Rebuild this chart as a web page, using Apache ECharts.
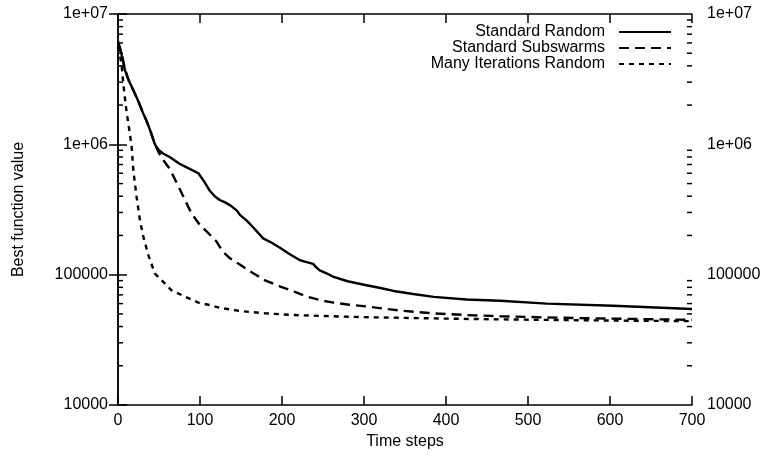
<!DOCTYPE html>
<html>
<head>
<meta charset="utf-8">
<script src="https://cdn.jsdelivr.net/npm/echarts@6/dist/echarts.min.js"></script>
<style>
html,body{margin:0;padding:0;background:#fff;}
#chart{width:766px;height:459px;}
</style>
</head>
<body>
<div id="chart"></div>
<script>
// ---- data ----
const seriesNames = ['Standard Random', 'Standard Subswarms', 'Many Iterations Random'];

const randomSteps = [0, 4, 8.5, 13, 18.7, 24, 29, 35, 39, 45, 50, 55, 63, 75, 85, 98, 105, 112, 118, 124, 130, 137, 145, 149, 157, 165, 177, 188, 198, 210, 222, 230, 238, 241, 246, 255, 263, 280, 303, 320, 336, 360, 385, 425, 466, 523, 604, 700];
const randomValues = [6.0e6, 5.0e6, 3.7e6, 3.1e6, 2.6e6, 2.2e6, 1.83e6, 1.5e6, 1.29e6, 1.0e6, 9.0e5, 8.5e5, 8.0e5, 7.1e5, 6.6e5, 6.0e5, 5.2e5, 4.4e5, 4.0e5, 3.74e5, 3.6e5, 3.4e5, 3.1e5, 2.86e5, 2.6e5, 2.3e5, 1.9e5, 1.75e5, 1.6e5, 1.43e5, 1.29e5, 1.25e5, 1.21e5, 1.15e5, 1.08e5, 1.02e5, 9.6e4, 8.9e4, 8.3e4, 7.9e4, 7.5e4, 7.1e4, 6.76e4, 6.45e4, 6.3e4, 6.0e4, 5.77e4, 5.45e4];

const subswarmSteps = [0, 4, 8.5, 13, 18.7, 24, 29, 35, 39, 45, 50, 55, 63, 70, 75.6, 82, 88, 94, 100, 108, 120, 128, 137, 149, 160, 169, 180, 198, 215, 230, 250, 263, 280, 303, 344, 385, 425, 466, 520, 580, 640, 700];
const subswarmValues = [6.2e6, 5.1e6, 3.8e6, 3.1e6, 2.6e6, 2.2e6, 1.85e6, 1.5e6, 1.3e6, 1.0e6, 8.6e5, 7.6e5, 6.5e5, 5.3e5, 4.5e5, 3.7e5, 3.1e5, 2.7e5, 2.4e5, 2.15e5, 1.8e5, 1.5e5, 1.33e5, 1.19e5, 1.07e5, 9.9e4, 9.0e4, 8.1e4, 7.4e4, 6.8e4, 6.3e4, 6.1e4, 5.9e4, 5.7e4, 5.3e4, 5.05e4, 4.9e4, 4.8e4, 4.7e4, 4.62e4, 4.56e4, 4.5e4];

const manyIterSteps = [0, 2, 4.5, 6.5, 8.5, 10.6, 12.6, 14.5, 16.7, 18.7, 22.8, 26.8, 30.9, 37, 45, 53, 65, 82, 98, 112, 124, 150, 180, 214, 260, 300, 344, 400, 466, 550, 630, 700];
const manyIterValues = [5.6e6, 5.0e6, 4.0e6, 2.9e6, 2.25e6, 1.75e6, 1.45e6, 1.2e6, 9.5e5, 6.3e5, 3.9e5, 2.6e5, 1.96e5, 1.41e5, 1.02e5, 9.1e4, 7.6e4, 6.77e4, 6.1e4, 5.85e4, 5.57e4, 5.25e4, 5.05e4, 4.9e4, 4.8e4, 4.72e4, 4.67e4, 4.6e4, 4.54e4, 4.48e4, 4.43e4, 4.4e4];

const xTickValues = [0, 100, 200, 300, 400, 500, 600, 700];
const yTickValues = [1e4, 1e5, 1e6, 1e7];
const yTickLabels = ['10000', '100000', '1e+06', '1e+07'];
const yMinorTicks = [2e4, 3e4, 4e4, 5e4, 6e4, 7e4, 8e4, 9e4, 2e5, 3e5, 4e5, 5e5, 6e5, 7e5, 8e5, 9e5, 2e6, 3e6, 4e6, 5e6, 6e6, 7e6, 8e6, 9e6];

// ---- chart ----
const FONT = '"Liberation Sans", Arial, Helvetica, sans-serif';
const zip = (xs, ys) => xs.map((x, i) => [x, ys[i]]);
const yLabel = v => {
  const e = Math.round(Math.log10(v));
  const idx = yTickValues.findIndex(t => Math.round(Math.log10(t)) === e);
  return idx >= 0 ? yTickLabels[idx] : '';
};

const chart = echarts.init(document.getElementById('chart'), null, {renderer: 'canvas'});
const axisLine = {show: true, lineStyle: {color: '#000', width: 1.5}};
const majorTick = {show: true, inside: true, length: 9, lineStyle: {color: '#000', width: 1.5}};
const labelStyle = {color: '#000', fontSize: 16, fontFamily: FONT};

chart.setOption({
  animation: false,
  backgroundColor: '#fff',
  grid: {left: 118, right: 74, top: 14, bottom: 54, containLabel: false},
  legend: {
    data: seriesNames,
    orient: 'vertical',
    right: 89,
    top: 19,
    align: 'right',
    itemWidth: 52,
    itemHeight: 12,
    itemGap: 0,
    itemStyle: {opacity: 0},
    textStyle: {color: '#000', fontSize: 16, fontFamily: FONT, padding: [0, 9, 0, 0]},
    inactiveColor: '#000'
  },
  xAxis: [{
    type: 'value', min: xTickValues[0], max: xTickValues[xTickValues.length - 1], interval: 100,
    position: 'bottom',
    name: 'Time steps', nameLocation: 'middle', nameGap: 27,
    nameTextStyle: {color: '#000', fontSize: 16, fontFamily: FONT},
    axisLine: axisLine, axisTick: majorTick,
    axisLabel: Object.assign({margin: 8}, labelStyle),
    splitLine: {show: false}
  }, {
    type: 'value', min: xTickValues[0], max: xTickValues[xTickValues.length - 1], interval: 100,
    position: 'top',
    axisLine: axisLine, axisTick: majorTick,
    axisLabel: {show: false}, splitLine: {show: false}
  }],
  yAxis: [{
    type: 'log', logBase: 10, min: yTickValues[0], max: yTickValues[yTickValues.length - 1],
    position: 'left',
    name: 'Best function value', nameLocation: 'middle', nameGap: 91,
    nameTextStyle: {color: '#000', fontSize: 16, fontFamily: FONT},
    axisLine: axisLine, axisTick: majorTick,
    axisLabel: Object.assign({margin: 10, formatter: yLabel}, labelStyle),
    splitLine: {show: false}
  }, {
    type: 'log', logBase: 10, min: yTickValues[0], max: yTickValues[yTickValues.length - 1],
    position: 'right',
    axisLine: axisLine, axisTick: majorTick,
    axisLabel: Object.assign({margin: 15, formatter: yLabel}, labelStyle),
    splitLine: {show: false}
  }],
  series: [{
    name: seriesNames[0], type: 'line', data: zip(randomSteps, randomValues),
    showSymbol: false, symbol: 'none', smooth: false,
    lineStyle: {color: '#000', width: 2.4, type: 'solid'},
    itemStyle: {color: '#000'}
  }, {
    name: seriesNames[1], type: 'line', data: zip(subswarmSteps, subswarmValues),
    showSymbol: false, symbol: 'none',
    lineStyle: {color: '#000', width: 2.4, type: [10, 6]},
    itemStyle: {color: '#000'}
  }, {
    name: seriesNames[2], type: 'line', data: zip(manyIterSteps, manyIterValues),
    showSymbol: false, symbol: 'none',
    lineStyle: {color: '#000', width: 2.4, type: [5, 5]},
    itemStyle: {color: '#000'}
  }, {
    name: 'minorTicksLeft', type: 'custom', silent: true, clip: false, z: 5,
    data: yMinorTicks.map(v => [xTickValues[0], v]),
    renderItem: function (params, api) {
      const p = api.coord([api.value(0), api.value(1)]);
      return {type: 'line', shape: {x1: p[0], y1: p[1], x2: p[0] + 5, y2: p[1]},
              style: {stroke: '#000', lineWidth: 1.5}};
    }
  }, {
    name: 'minorTicksRight', type: 'custom', silent: true, clip: false, z: 5,
    data: yMinorTicks.map(v => [xTickValues[xTickValues.length - 1], v]),
    renderItem: function (params, api) {
      const p = api.coord([api.value(0), api.value(1)]);
      return {type: 'line', shape: {x1: p[0], y1: p[1], x2: p[0] - 5, y2: p[1]},
              style: {stroke: '#000', lineWidth: 1.5}};
    }
  }]
});
</script>
</body>
</html>
